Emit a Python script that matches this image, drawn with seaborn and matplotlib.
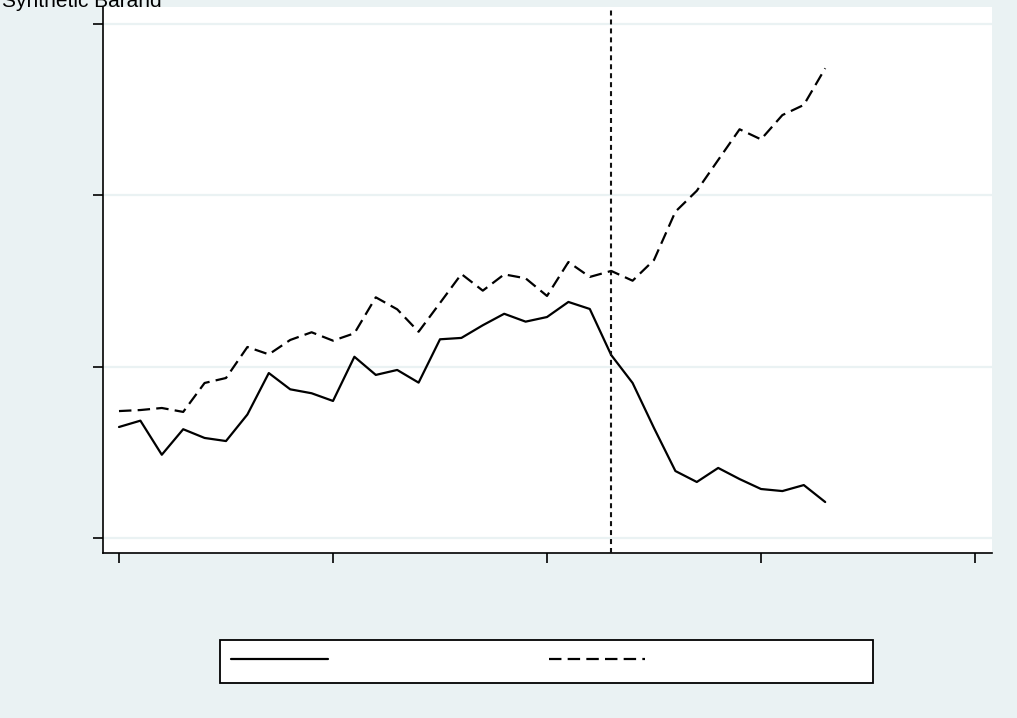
import numpy as np
import pandas as pd
import matplotlib
matplotlib.use("Agg")
import matplotlib.pyplot as plt
import seaborn as sns

# Annual series, 1970-2003
years = list(range(1970, 2004))
treated = [0.648, 0.685, 0.486, 0.635, 0.584, 0.566, 0.721, 0.963, 0.868, 0.845,
           0.800, 1.058, 0.952, 0.981, 0.907, 1.160, 1.168, 1.242, 1.309, 1.263,
           1.290, 1.378, 1.337, 1.068, 0.905, 0.642, 0.391, 0.327, 0.409, 0.344,
           0.286, 0.274, 0.309, 0.210]
synthetic = [0.741, 0.747, 0.759, 0.736, 0.905, 0.934, 1.115, 1.072, 1.156, 1.201,
             1.152, 1.195, 1.405, 1.335, 1.204, 1.372, 1.541, 1.444, 1.539, 1.516,
             1.413, 1.611, 1.524, 1.559, 1.502, 1.623, 1.905, 2.027, 2.207, 2.386,
             2.327, 2.469, 2.528, 2.742]
intervention_year = 1993
x_ticks = [1970, 1980, 1990, 2000, 2010]
y_ticks = [0, 1, 2, 3]
title_text = "Synthetic Barand"

bg = "#EAF2F3"

sns.set_theme(style="white")
plt.rcParams["font.family"] = ["Liberation Sans", "DejaVu Sans"]

fig = plt.figure(figsize=(10.17, 7.18), dpi=100, facecolor=bg)
W, H = 1017, 718
ax = fig.add_axes([103 / W, (H - 553) / H, (992 - 103) / W, (553 - 7) / H])
ax.set_facecolor("white")

df = pd.DataFrame({"year": years, "treated": treated, "synthetic": synthetic})

sns.lineplot(data=df, x="year", y="treated", ax=ax, color="black",
             linewidth=1.6, legend=False)
sns.lineplot(data=df, x="year", y="synthetic", ax=ax, color="black",
             linewidth=1.6, legend=False)
ax.lines[1].set_dashes([5.6, 2.8])

ax.axvline(intervention_year, color="#111111", linewidth=1.5,
           linestyle=(0, (2.4, 1.9)), zorder=3)

# axis ranges
unit_x = 214 / 10
ax.set_xlim(1970 - 16 / unit_x, 1970 + (992 - 119) / unit_x)
unit_y = 171.3
ax.set_ylim(-15 / unit_y, (538 - 7) / unit_y)

ax.set_xticks(x_ticks)
ax.set_yticks(y_ticks)
ax.set_xticklabels([])
ax.set_yticklabels([])
ax.set_xlabel("")
ax.set_ylabel("")

ax.grid(axis="y", color=bg, linewidth=1.6)
ax.grid(axis="x", visible=False)
ax.set_axisbelow(True)

for side in ["top", "right"]:
    ax.spines[side].set_visible(False)
for side in ["left", "bottom"]:
    ax.spines[side].set_color("black")
    ax.spines[side].set_linewidth(1.2)
ax.tick_params(axis="both", which="major", direction="out", length=7.2,
               width=1.2, color="black", bottom=True, left=True)

# legend row beneath the plot
handles = [ax.lines[0], ax.lines[1]]
leg = fig.legend(handles, ["", ""], ncol=2, mode="expand",
                 bbox_to_anchor=(220 / W, (H - 661.5) / H, (873 - 220) / W, 0),
                 loc="center", borderaxespad=0, fontsize=12,
                 handlelength=5.8, handletextpad=13.0, borderpad=0.66,
                 handleheight=1.55,
                 frameon=True, fancybox=False, framealpha=1)
leg.get_frame().set_edgecolor("black")
leg.get_frame().set_linewidth(1.3)
leg.get_frame().set_facecolor("white")

fig.text(2 / W, (H - 7) / H, title_text, fontsize=15, color="black",
         ha="left", va="baseline")

fig.savefig("out.png", dpi=100, facecolor=bg)
